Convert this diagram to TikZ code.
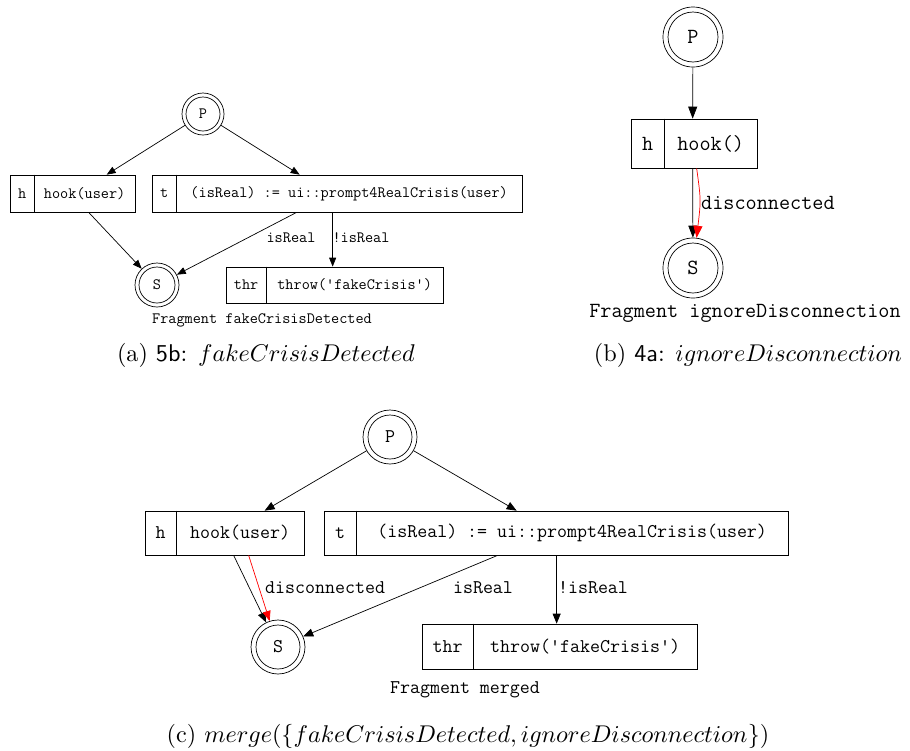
\documentclass[tikz,border=0pt]{standalone}
\usepackage{fontspec}
\usetikzlibrary{arrows.meta,calc}
\begin{document}
\begin{tikzpicture}[x=1pt,y=-1pt,
  lw/.style={line width=0.7pt},
  rec/.style={draw, lw, rectangle, inner sep=0pt},
  dc/.style={draw, lw, circle, inner sep=0pt},
  fa/.style={font=\ttfamily\fontsize{15.8}{18}\selectfont, inner sep=0pt},
  fb/.style={font=\ttfamily\fontsize{21.6}{24}\selectfont, inner sep=0pt},
  fc/.style={font=\ttfamily\fontsize{19.4}{22}\selectfont, inner sep=0pt},
  eda/.style={lw, -{Triangle[length=9pt,width=7pt]}},
  edb/.style={lw, -{Triangle[length=12pt,width=9pt]}},
  edc/.style={lw, -{Triangle[length=10pt,width=8pt]}},
  capt/.style={font=\rmfamily, scale=2.42, inner sep=0pt},
]
\useasboundingbox (0,0) rectangle (910,750);

% ---------------- panel (a)
\node[dc, fa, minimum size=42pt] (aP) at (203,114) {P};
\draw[lw] (aP.center) circle[radius=17pt];
\node[rec, minimum width=125pt, minimum height=37pt] (ah) at (72.5,193.5) {};
\draw[lw] ([xshift=25pt]ah.north west) -- ([xshift=25pt]ah.south west);
\node[fa] (ahk) at ([xshift=12.5pt]ah.west) {h};
\node[fa] (ahv) at ([xshift=75pt]ah.west) {hook(user)};
\node[rec, minimum width=370pt, minimum height=37pt] (at) at (337,193.5) {};
\draw[lw] ([xshift=25pt]at.north west) -- ([xshift=25pt]at.south west);
\node[fa] (atk) at ([xshift=12.5pt]at.west) {t};
\node[fa] (atv) at ([xshift=197.5pt]at.west) {(isReal) := ui::prompt4RealCrisis(user)};
\node[dc, fa, minimum size=44pt] (aS) at (157,285) {S};
\draw[lw] (aS.center) circle[radius=18pt];
\node[rec, minimum width=217pt, minimum height=36pt] (athr) at (334.5,285) {};
\draw[lw] ([xshift=41pt]athr.north west) -- ([xshift=41pt]athr.south west);
\node[fa] (athrk) at ([xshift=20.5pt]athr.west) {thr};
\node[fa] (athrv) at ([xshift=129pt]athr.west) {throw('fakeCrisis')};
\draw[eda] (aP) -- ([xshift=97pt]ah.north west);
\draw[eda] (aP) -- ([xshift=148pt]at.north west);
\draw[eda] ([xshift=79pt]ah.south west) -- (aS);
\draw[eda] ([xshift=145pt]at.south west) -- (aS);
\draw[eda] ([xshift=181pt]at.south west) -- ([xshift=107pt]athr.north west);
\node[fa] (alr) at (291,238) {isReal};
\node[fa] (alnr) at (361,238) {!isReal};
\node[fa] (afa) at (262,320) {Fragment fakeCrisisDetected};
\node[capt] (capa) at (266,355) {(a) \textsf{5b}: $fakeCrisisDetected$};

% ---------------- panel (b)
\node[dc, fb, minimum size=60pt] (bP) at (693,37) {P};
\draw[lw] (bP.center) circle[radius=25pt];
\node[rec, minimum width=126pt, minimum height=49pt] (bh) at (694,143.5) {};
\draw[lw] ([xshift=34pt]bh.north west) -- ([xshift=34pt]bh.south west);
\node[fb] (bhk) at ([xshift=17pt]bh.west) {h};
\node[fb] (bhv) at ([xshift=80pt]bh.west) {hook()};
\node[dc, fb, minimum size=60pt] (bS) at (693,268) {S};
\draw[lw] (bS.center) circle[radius=25pt];
\draw[edb] (bP) -- ([xshift=62pt]bh.north west);
\draw[edb] ([xshift=62pt]bh.south west) -- (bS);
\draw[edb, red] ([xshift=66pt]bh.south west) .. controls (701,200) .. (bS);
\node[fb, anchor=west] (bld) at (701,203) {disconnected};
\node[fb] (bfr) at (745,313) {Fragment ignoreDisconnection};
\node[capt] (capb) at (748,355) {(b) \textsf{4a}: $ignoreDisconnection$};

% ---------------- panel (c)
\node[dc, fc, minimum size=54pt] (cP) at (390,437) {P};
\draw[lw] (cP.center) circle[radius=22pt];
\node[rec, minimum width=159pt, minimum height=44pt] (ch) at (224.5,533) {};
\draw[lw] ([xshift=32pt]ch.north west) -- ([xshift=32pt]ch.south west);
\node[fc] (chk) at ([xshift=16pt]ch.west) {h};
\node[fc] (chv) at ([xshift=95.5pt]ch.west) {hook(user)};
\node[rec, minimum width=464pt, minimum height=44pt] (ct) at (556,533) {};
\draw[lw] ([xshift=33pt]ct.north west) -- ([xshift=33pt]ct.south west);
\node[fc] (ctk) at ([xshift=16.5pt]ct.west) {t};
\node[fc] (ctv) at ([xshift=248.5pt]ct.west) {(isReal) := ui::prompt4RealCrisis(user)};
\node[dc, fc, minimum size=54pt] (cS) at (278,647) {S};
\draw[lw] (cS.center) circle[radius=22pt];
\node[rec, minimum width=275pt, minimum height=45pt] (cthr) at (559.5,646.5) {};
\draw[lw] ([xshift=52pt]cthr.north west) -- ([xshift=52pt]cthr.south west);
\node[fc] (cthrk) at ([xshift=26pt]cthr.west) {thr};
\node[fc] (cthrv) at ([xshift=163.5pt]cthr.west) {throw('fakeCrisis')};
\draw[edc] (cP) -- ([xshift=120pt]ch.north west);
\draw[edc] (cP) -- ([xshift=193pt]ct.north west);
\draw[edc] ([xshift=89pt]ch.south west) -- (cS);
\draw[edc, red] ([xshift=104pt]ch.south west) -- (cS);
\draw[edc] ([xshift=174pt]ct.south west) -- (cS);
\draw[edc] ([xshift=233pt]ct.south west) -- ([xshift=135pt]cthr.north west);
\node[fc, anchor=west] (cld) at (265,588) {disconnected};
\node[fc] (clr) at (483,588) {isReal};
\node[fc] (clnr) at (593,588) {!isReal};
\node[fc] (cfr) at (465,690) {Fragment merged};
\node[capt] (capc) at (468,736) {(c) $merge(\{fakeCrisisDetected, ignoreDisconnection\})$};
\end{tikzpicture}
\end{document}
